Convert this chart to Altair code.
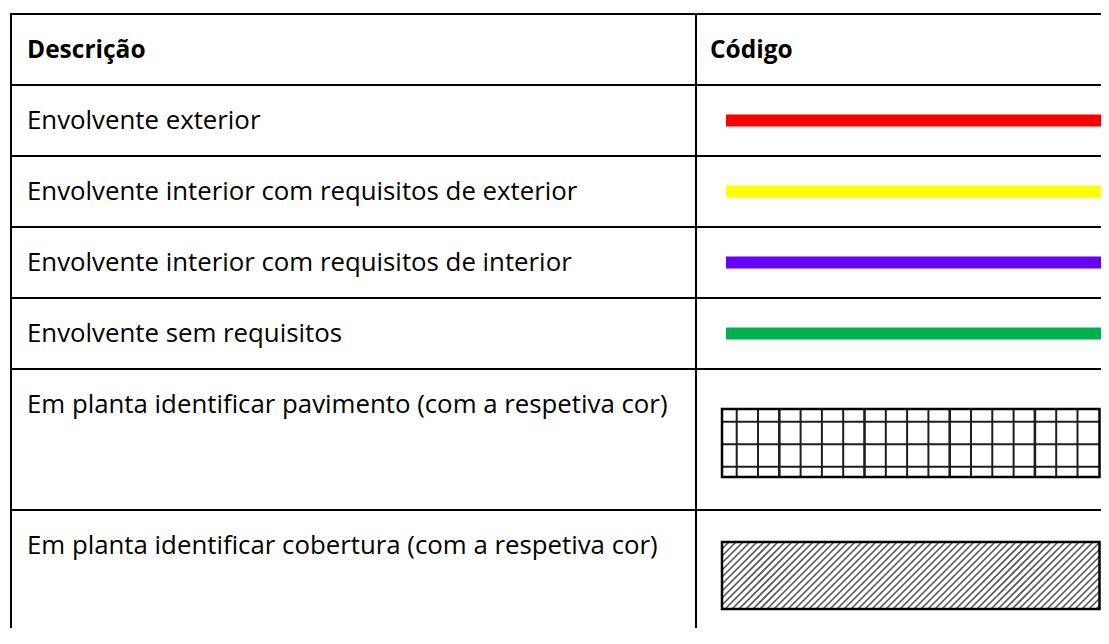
import altair as alt
import pandas as pd
import numpy as np

# ---------------- data ----------------
header = ["Descrição", "Código"]
descriptions = [
    "Envolvente exterior",
    "Envolvente interior com requisitos de exterior",
    "Envolvente interior com requisitos de interior",
    "Envolvente sem requisitos",
    "Em planta identificar pavimento (com a respetiva cor)",
    "Em planta identificar cobertura (com a respetiva cor)",
]
line_colors = ["#FF0000", "#FFFF00", "#6600FF", "#00B050"]

# ---------------- layout (page pixel coordinates) ----------------
X_START, X_END = 8, 1101
Y_START, Y_END = 8, 628
row_tops = [14, 85, 156, 227, 298, 369, 510]
col_left, col_mid = 11, 696
text_x_desc, text_x_code = 27, 710
baseline_off = 44
FONT = "Open Sans"
FSIZE = 25.8
FSIZE_BOLD = 24.5

xs = alt.Scale(domain=[X_START, X_END], nice=False, zero=False)
ys = alt.Scale(domain=[Y_START, Y_END], nice=False, zero=False, reverse=True)


def enc(**kw):
    out = {}
    for ch, f in kw.items():
        if ch == "x":
            out[ch] = alt.X(f"{f}:Q", scale=xs, axis=None)
        elif ch == "y":
            out[ch] = alt.Y(f"{f}:Q", scale=ys, axis=None)
        elif ch == "x2":
            out[ch] = alt.X2(f)
        elif ch == "y2":
            out[ch] = alt.Y2(f)
    return out


# table rules
hlines = pd.DataFrame({"x": col_left - 1, "x2": X_END, "y": row_tops})
vlines = pd.DataFrame({"x": [col_left, col_mid], "y": row_tops[0], "y2": Y_END})
h_layer = alt.Chart(hlines).mark_rule(color="black", strokeWidth=2).encode(**enc(x="x", x2="x2", y="y"))
v_layer = alt.Chart(vlines).mark_rule(color="black", strokeWidth=2).encode(**enc(x="x", y="y", y2="y2"))

# texts
head_df = pd.DataFrame({
    "text": header,
    "x": [text_x_desc, text_x_code],
    "y": [row_tops[0] + baseline_off] * 2,
})
desc_df = pd.DataFrame({
    "text": descriptions,
    "x": text_x_desc,
    "y": [t + baseline_off for t in row_tops[1:]],
})
head_layer = alt.Chart(head_df).mark_text(
    align="left", baseline="alphabetic", font=FONT, fontSize=FSIZE_BOLD, fontWeight="bold", color="black"
).encode(text="text:N", **enc(x="x", y="y"))
desc_layer = alt.Chart(desc_df).mark_text(
    align="left", baseline="alphabetic", font=FONT, fontSize=FSIZE, color="black"
).encode(text="text:N", **enc(x="x", y="y"))

# coloured code lines
bars_df = pd.DataFrame({
    "color": line_colors,
    "x": 726, "x2": 1106,
    "y": [t + 29.5 for t in row_tops[1:5]],
    "y2": [t + 41.5 for t in row_tops[1:5]],
})
bars_layer = alt.Chart(bars_df).mark_rect().encode(
    color=alt.Color("color:N", scale=None), **enc(x="x", x2="x2", y="y", y2="y2")
)

# grid swatch (pavimento)
gx0, gx1 = 722, 1099.5
gy0, gy1 = row_tops[5] + 40, row_tops[5] + 108
grid_box = pd.DataFrame({"x": [gx0], "x2": [gx1], "y": [gy0], "y2": [gy1]})
vx = 736.7 + 21.3 * np.arange(17)
grid_v = pd.DataFrame({"x": vx, "y": gy0, "y2": gy1, "w": [2.6 if k % 4 == 2 else 2.0 for k in range(17)]})
grid_h = pd.DataFrame({"y": gy0 + 12.7 + 22.5 * np.arange(3), "x": gx0, "x2": gx1})

grid_fill = alt.Chart(grid_box).mark_rect(fill="white").encode(**enc(x="x", x2="x2", y="y", y2="y2"))
grid_v_layer = alt.Chart(grid_v).mark_rule(color="#1e1e1e").encode(
    strokeWidth=alt.StrokeWidth("w:Q", scale=None), **enc(x="x", y="y", y2="y2")
)
grid_h_layer = alt.Chart(grid_h).mark_rule(color="#1e1e1e", strokeWidth=2.0).encode(**enc(x="x", x2="x2", y="y"))
grid_border = alt.Chart(grid_box).mark_rect(fill=None, stroke="black", strokeWidth=2.5).encode(
    **enc(x="x", x2="x2", y="y", y2="y2")
)

# hatch swatch (cobertura)
hx0, hx1 = 722, 1099.5
hy0, hy1 = row_tops[6] + 32, row_tops[6] + 99
hh = hy1 - hy0
segs = []
for c in np.arange(hx0 - hh, hx1, 7.0):
    xa, ya = c, hy1
    xb, yb = c + hh, hy0
    if xa < hx0:
        ya = hy1 - (hx0 - xa)
        xa = hx0
    if xb > hx1:
        yb = hy0 + (xb - hx1)
        xb = hx1
    if xb > xa:
        segs.append({"x": xa, "y": ya, "x2": xb, "y2": yb})
hatch_df = pd.DataFrame(segs)
hatch_box = pd.DataFrame({"x": [hx0], "x2": [hx1], "y": [hy0], "y2": [hy1]})
hatch_fill = alt.Chart(hatch_box).mark_rect(fill="white").encode(**enc(x="x", x2="x2", y="y", y2="y2"))
hatch_layer = alt.Chart(hatch_df).mark_rule(color="#555", strokeWidth=1.6).encode(
    **enc(x="x", y="y", x2="x2", y2="y2")
)
hatch_border = alt.Chart(hatch_box).mark_rect(fill=None, stroke="black", strokeWidth=2.5).encode(
    **enc(x="x", x2="x2", y="y", y2="y2")
)

chart = alt.layer(
    h_layer, v_layer, head_layer, desc_layer, bars_layer,
    grid_fill, grid_v_layer, grid_h_layer, grid_border,
    hatch_fill, hatch_layer, hatch_border,
).properties(
    width=X_END - X_START, height=Y_END - Y_START, padding=0,
    autosize=alt.AutoSizeParams(type="none"), background="white",
).configure_view(stroke=None)

chart.save("out.html", embed_options={"renderer": "svg", "actions": False})
